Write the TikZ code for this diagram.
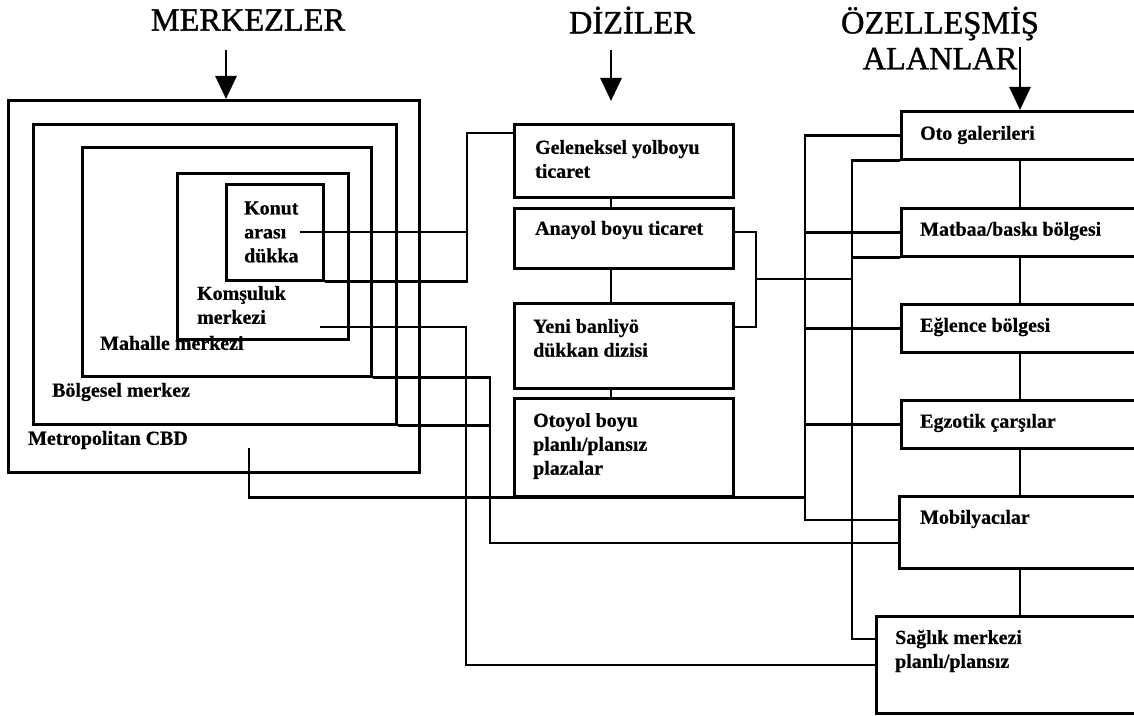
\documentclass[tikz,border=0pt]{standalone}
\usepackage{fontspec}
\setmainfont{Liberation Serif}[BoldFeatures={FakeBold=0.6}]
\newfontfamily\headfont[FakeBold=1.2]{Liberation Serif}
\usetikzlibrary{arrows.meta,calc}
\tikzset{
    box/.style={draw, line width=2.6bp, inner sep=0pt, anchor=north west},
    link/.style={line width=2.6bp},
    drop/.style={line width=2.8bp, -{Triangle[width=21bp,length=23bp]}},
    head/.style={font=\headfont\fontsize{32.5}{36}\selectfont, align=center},
    tag/.style={font=\bfseries\fontsize{20}{24}\selectfont, align=left,
                inner sep=1pt, anchor=west},
}

\begin{document}
\begin{tikzpicture}[x=1bp, y=-1bp]

    \useasboundingbox (0,0) rectangle (1134,716);
    \clip (0,0) rectangle (1134,716);

    \node[head] (merkez) at (248,20) {MERKEZLER};
    \node[head] (dizi) at (632,20) {DİZİLER};
    \node[head] (ozel) at (940,38) {ÖZELLEŞMİŞ\\ALANLAR};

    \node[box, minimum width=411bp, minimum height=372bp] (cbd) at (7,99) {};
    \node[box, minimum width=363bp, minimum height=300bp] (bol) at (32,123) {};
    \node[box, minimum width=289bp, minimum height=229bp] (mah) at (81,146) {};
    \node[box, minimum width=171bp, minimum height=166bp] (kom) at (176,172) {};
    \node[box, minimum width=97bp, minimum height=96bp] (kon) at (225,183) {};
    \node[tag] (t-kon) at (243,232) {Konut\\arası\\dükka};
    \node[tag] (t-kom) at (196,305) {Komşuluk\\merkezi};
    \node[tag] (t-mah) at (99,343) {Mahalle merkezi};
    \node[tag] (t-bol) at (51,392) {Bölgesel merkez};
    \node[tag] (t-cbd) at (27,440) {Metropolitan CBD};

    \node[box, minimum width=219bp, minimum height=73bp] (gel) at (513,123) {};
    \node[box, minimum width=219bp, minimum height=60bp] (ana) at (513,207) {};
    \node[box, minimum width=219bp, minimum height=85bp] (yeni) at (513,302) {};
    \node[box, minimum width=219bp, minimum height=98bp] (otoy) at (513,397) {};
    \node[tag] (t-gel) at (534,159) {Geleneksel yolboyu\\ticaret};
    \node[tag] (t-ana) at (534,230) {Anayol boyu ticaret};
    \node[tag] (t-yeni) at (532,338) {Yeni banliyö\\dükkan dizisi};
    \node[tag] (t-otoy) at (532,446) {Otoyol boyu\\planlı/plansız\\plazalar};

    \node[box, minimum width=260bp, minimum height=48bp] (oto) at (900,110) {};
    \node[box, minimum width=260bp, minimum height=48bp] (mat) at (900,207) {};
    \node[box, minimum width=260bp, minimum height=48bp] (eg) at (900,303) {};
    \node[box, minimum width=260bp, minimum height=48bp] (egz) at (900,399) {};
    \node[box, minimum width=262bp, minimum height=72bp] (mob) at (898,495) {};
    \node[box, minimum width=285bp, minimum height=97bp] (sag) at (875,615) {};
    \node[tag] (t-oto) at (919,135) {Oto galerileri};
    \node[tag] (t-mat) at (919,231) {Matbaa/baskı bölgesi};
    \node[tag] (t-eg) at (919,327) {Eğlence bölgesi};
    \node[tag] (t-egz) at (919,423) {Egzotik çarşılar};
    \node[tag] (t-mob) at (919,519) {Mobilyacılar};
    \node[tag] (t-sag) at (894,651) {Sağlık merkezi\\planlı/plansız};

    \coordinate (m-top) at (226,50);
    \coordinate (d-top) at (611,50);
    \coordinate (d-tip) at (611,101);
    \coordinate (s-top) at (1020,47);
    \draw[drop] (m-top) -- (m-top |- cbd.north);
    \draw[drop] (d-top) -- (d-tip);
    \draw[drop] (s-top) -- (s-top |- oto.north);

    \coordinate (jk) at (467,133);
    \coordinate (kn-out) at (320,327);
    \coordinate (kn-end) at (466,665);
    \coordinate (mh-end) at (490,543);
    \coordinate (cbd-out) at (249,448);
    \coordinate (bus1) at (805,520);
    \coordinate (bus2) at (852,639);
    \coordinate (br-top) at (756,232);
    \coordinate (br-mid) at (756,279);
    \coordinate (br-bot) at (756,327);

    \draw[link] (t-kon.east) -| (jk) -- (jk -| gel.west);
    \draw[link] (kon.south east) -| (jk);
    \draw[link] (kn-out) -| (kn-end) -- (kn-end -| sag.west);
    \draw[link] (mah.south east) -| (mh-end) -- (mh-end -| mob.west);
    \draw[link] (bol.south east) -- (bol.south east -| mh-end);
    \draw[link] (cbd-out) |- (otoy.south -| bus1);

    \draw[link] (gel.south -| d-top) -- (ana.north -| d-top);
    \draw[link] (ana.south -| d-top) -- (yeni.north -| d-top);
    \draw[link] (yeni.south -| d-top) -- (otoy.north -| d-top);
    \draw[link] (ana.east |- br-top) -| (br-bot) -- (br-bot -| yeni.east);
    \draw[link] (br-mid) -- (br-mid -| bus2);

    \draw[link] (oto.west) -| (bus1) -- (bus1 -| mob.west);
    \draw[link] (mat.west) -- (mat.west -| bus1);
    \draw[link] (eg.west) -- (eg.west -| bus1);
    \draw[link] (egz.west) -- (egz.west -| bus1);
    \draw[link] (oto.south west) -| (bus2) -- (bus2 -| sag.west);
    \draw[link] (mat.south west) -- (mat.south west -| bus2);

    \draw[link] (oto.south -| s-top) -- (mat.north -| s-top);
    \draw[link] (mat.south -| s-top) -- (eg.north -| s-top);
    \draw[link] (eg.south -| s-top) -- (egz.north -| s-top);
    \draw[link] (egz.south -| s-top) -- (mob.north -| s-top);
    \draw[link] (mob.south -| s-top) -- (sag.north -| s-top);

\end{tikzpicture}
\end{document}
